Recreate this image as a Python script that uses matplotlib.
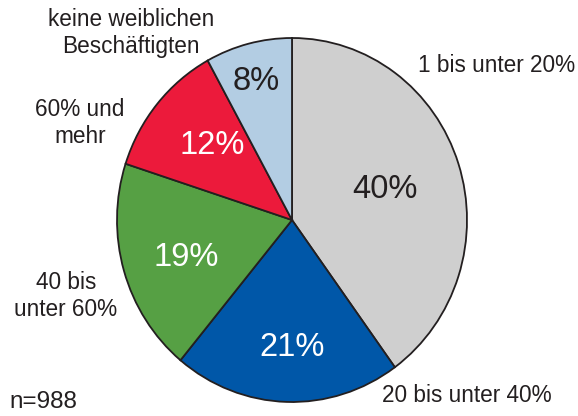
import matplotlib
matplotlib.use("Agg")
import matplotlib.pyplot as plt

# Anteil weiblicher Beschaeftigter
labels = ["1 bis unter 20%", "20 bis unter 40%", "40 bis\nunter 60%",
          "60% und\nmehr", "keine weiblichen\nBeschäftigten"]
shares = [40, 21, 19, 12, 8]
colors = ["#cfcfcf", "#0057a8", "#56a044", "#ec1a3b", "#b3cde3"]
pct_colors = ["#231f20", "white", "white", "white", "#231f20"]
n_text = "n=988"

plt.rcParams['font.family'] = ['Liberation Sans', 'DejaVu Sans']
txt = "#231f20"

# pie centre / radii in pixels
cx, cy, rx, ry = 292, 220, 175, 182
W, H = 578, 416


def px(x, y):
    return (x - cx) / rx, (cy - y) / ry


fig = plt.figure(figsize=(W / 100, H / 100), dpi=100)
ax = fig.add_axes([0, 0, 1, 1])
ax.pie(shares, startangle=90, counterclock=False, colors=colors,
       wedgeprops=dict(edgecolor=txt, linewidth=1.3))
ax.set_aspect('auto')
ax.set_xlim(px(0, 0)[0], px(W, 0)[0])
ax.set_ylim(px(0, H)[1], px(0, 0)[1])
ax.axis('off')

# percent labels inside the slices
pct_pos = [(385, 189), (292, 348), (186, 257), (212, 146), (256, 82)]
for s, c, p in zip(shares, pct_colors, pct_pos):
    ax.text(*px(*p), f"{s}%", color=c, fontsize=23.5, ha='center', va='center')

# category labels outside
lab_pos = [(497, 66), (467, 395), (66, 296), (80, 123), (131, 33)]
for l, p in zip(labels, lab_pos):
    ax.text(*px(*p), l, color=txt, fontsize=16.3, ha='center', va='center',
            linespacing=1.25)

ax.text(*px(9, 402), n_text, color=txt, fontsize=17.5, ha='left', va='center')

fig.savefig("out.png", dpi=100)
